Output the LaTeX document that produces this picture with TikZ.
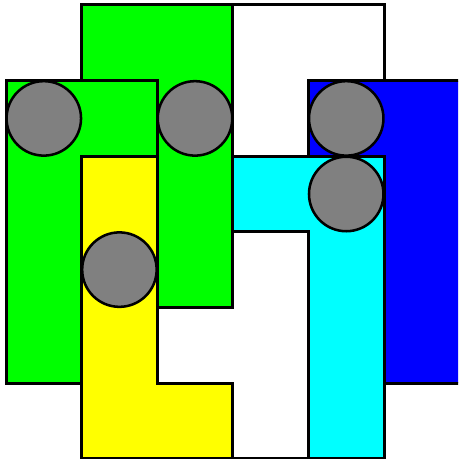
\documentclass[tikz,border=0pt]{standalone}
\begin{document}
\begin{tikzpicture}[
  piece/.style={draw=black, line width=1.13pt, line join=miter},
  peg/.style={draw=black, fill=pegGray, line width=0.95pt, circle, minimum size=0.985cm, inner sep=0pt},
]
\definecolor{pegGray}{HTML}{808080}
\definecolor{pGreen}{HTML}{00FF00}
\definecolor{pYellow}{HTML}{FFFF00}
\definecolor{pCyan}{HTML}{00FFFF}
\definecolor{pBlue}{HTML}{0000FF}
\clip (-0.0794,0.066) rectangle (5.979,-6.005);
\useasboundingbox (-0.0794,0.066) rectangle (5.979,-6.005);
% white pieces
\path[piece, fill=white] (3,0) rectangle (5,-2);
\path[piece, fill=white] (2,-3) rectangle (4,-6);
% blue
\path[piece, fill=pBlue] (4,-1) rectangle (6.3,-5);
% cyan L
\path[piece, fill=pCyan] (3,-2) -- (5,-2) -- (5,-6) -- (4,-6) -- (4,-3) -- (3,-3) -- cycle;
% big green
\path[piece, fill=pGreen] (1,0) rectangle (3,-4);
% left green
\path[piece, fill=pGreen] (0,-1) rectangle (2,-5);
% yellow L
\path[piece, fill=pYellow] (1,-2) -- (2,-2) -- (2,-5) -- (3,-5) -- (3,-6) -- (1,-6) -- cycle;
% pegs
\node[peg] (p1) at (0.5,-1.5) {};
\node[peg] (p2) at (2.5,-1.5) {};
\node[peg] (p3) at (4.5,-1.5) {};
\node[peg] (p4) at (4.5,-2.5) {};
\node[peg] (p5) at (1.5,-3.5) {};
\end{tikzpicture}
\end{document}
